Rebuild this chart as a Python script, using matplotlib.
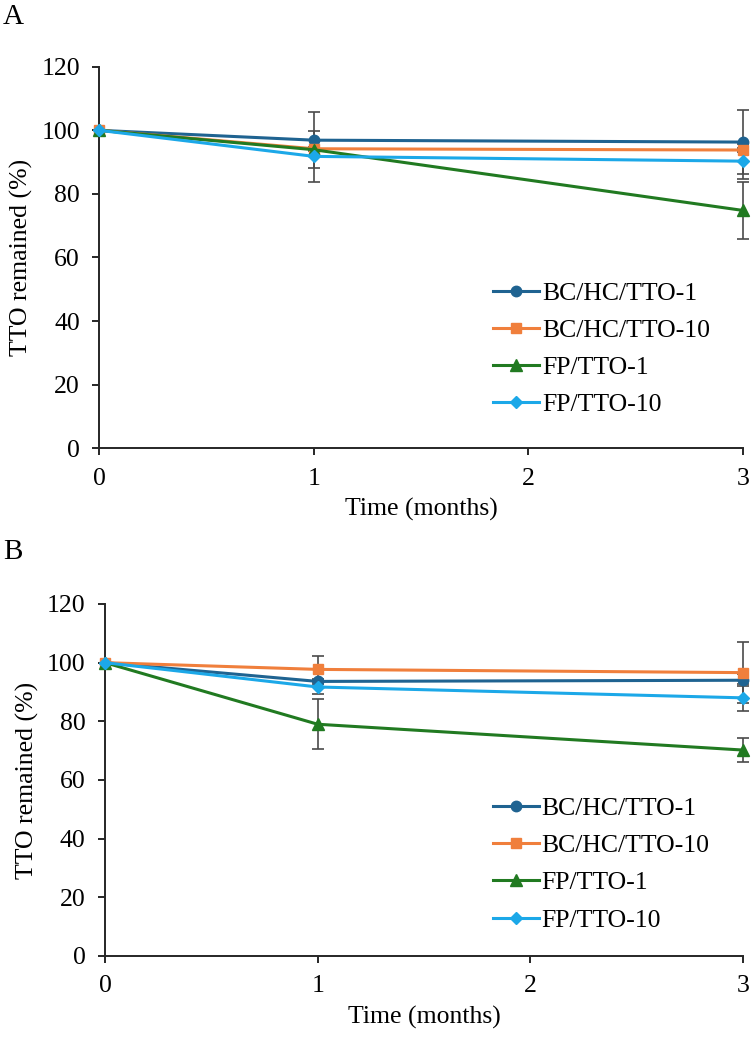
import matplotlib
matplotlib.use("Agg")
from matplotlib import pyplot as plt

plt.rcParams['font.family'] = ['Liberation Serif', 'DejaVu Serif']

# data
months = [0, 1, 3]
labels = ['BC/HC/TTO-1', 'BC/HC/TTO-10', 'FP/TTO-1', 'FP/TTO-10']
colors = ['#1F6391', '#F07F3C', '#217A21', '#1CA8E8']
markers = ['o', 's', '^', 'D']
msizes = [7.5, 7.5, 8, 6]

# panel A
a_bc1 = [100, 96.9, 96.3]
a_bc10 = [100, 94.2, 93.8]
a_fp1 = [100, 93.9, 74.8]
a_fp10 = [100, 91.8, 90.3]
a_bc1_err = [0, 8.9, 10.0]
a_bc10_err = [0, 0.5, 0.6]
a_fp1_err = [0, 0.5, 9.0]
a_fp10_err = [0, 8.0, 5.5]

# panel B
b_bc1 = [100, 93.6, 94.0]
b_bc10 = [100, 97.7, 96.6]
b_fp1 = [100, 79.0, 70.2]
b_fp10 = [100, 91.7, 88.0]
b_bc1_err = [0, 0.8, 2.0]
b_bc10_err = [0, 4.4, 10.5]
b_fp1_err = [0, 8.5, 4.0]
b_fp10_err = [0, 2.5, 4.6]


def plot(ax, series, errs, leg_anchor):
    for y, e in zip(series, errs):
        ax.errorbar(months, y, yerr=e, fmt='none', ecolor='#4a4a4a',
                    elinewidth=1.2, capsize=4, capthick=1.2, zorder=2, clip_on=False)
    for y, c, m, ms, lab in zip(series, colors, markers, msizes, labels):
        ax.plot(months, y, color=c, marker=m, markersize=ms, linewidth=2.2,
                label=lab, zorder=3, clip_on=False)
    ax.set_xlim(0, 3)
    ax.set_ylim(0, 120)
    ax.set_xticks([0, 1, 2, 3])
    ax.set_yticks(range(0, 121, 20))
    ax.spines['top'].set_visible(False)
    ax.spines['right'].set_visible(False)
    for s in ['left', 'bottom']:
        ax.spines[s].set_linewidth(1.4)
        ax.spines[s].set_color('#262626')
    ax.tick_params(direction='out', length=5, width=1.4, color='#262626',
                   labelsize=18.5, pad=9)
    ax.set_xlabel('Time (months)', fontsize=18.5, labelpad=6)
    ax.set_ylabel('TTO remained (%)', fontsize=18.5, labelpad=6)
    ax.legend(loc='center left', bbox_to_anchor=leg_anchor, frameon=False,
              fontsize=18.5, handlelength=1.8, handletextpad=0.1,
              labelspacing=0.55, borderpad=0, borderaxespad=0)


fig = plt.figure(figsize=(7.52, 10.41), dpi=100)
ax1 = fig.add_axes([0.1320, 0.5694, 0.856, 0.3665])
ax2 = fig.add_axes([0.1396, 0.0817, 0.8484, 0.3381])

plot(ax1, [a_bc1, a_bc10, a_fp1, a_fp10],
     [a_bc1_err, a_bc10_err, a_fp1_err, a_fp10_err], (0.612, 0.26))
plot(ax2, [b_bc1, b_bc10, b_fp1, b_fp10],
     [b_bc1_err, b_bc10_err, b_fp1_err, b_fp10_err], (0.608, 0.26))

fig.text(0.004, 1 - 17 / 1041, 'A', fontsize=21, va='center', ha='left')
fig.text(0.004, 1 - 552 / 1041, 'B', fontsize=21, va='center', ha='left')

fig.savefig('out.png', dpi=100)
